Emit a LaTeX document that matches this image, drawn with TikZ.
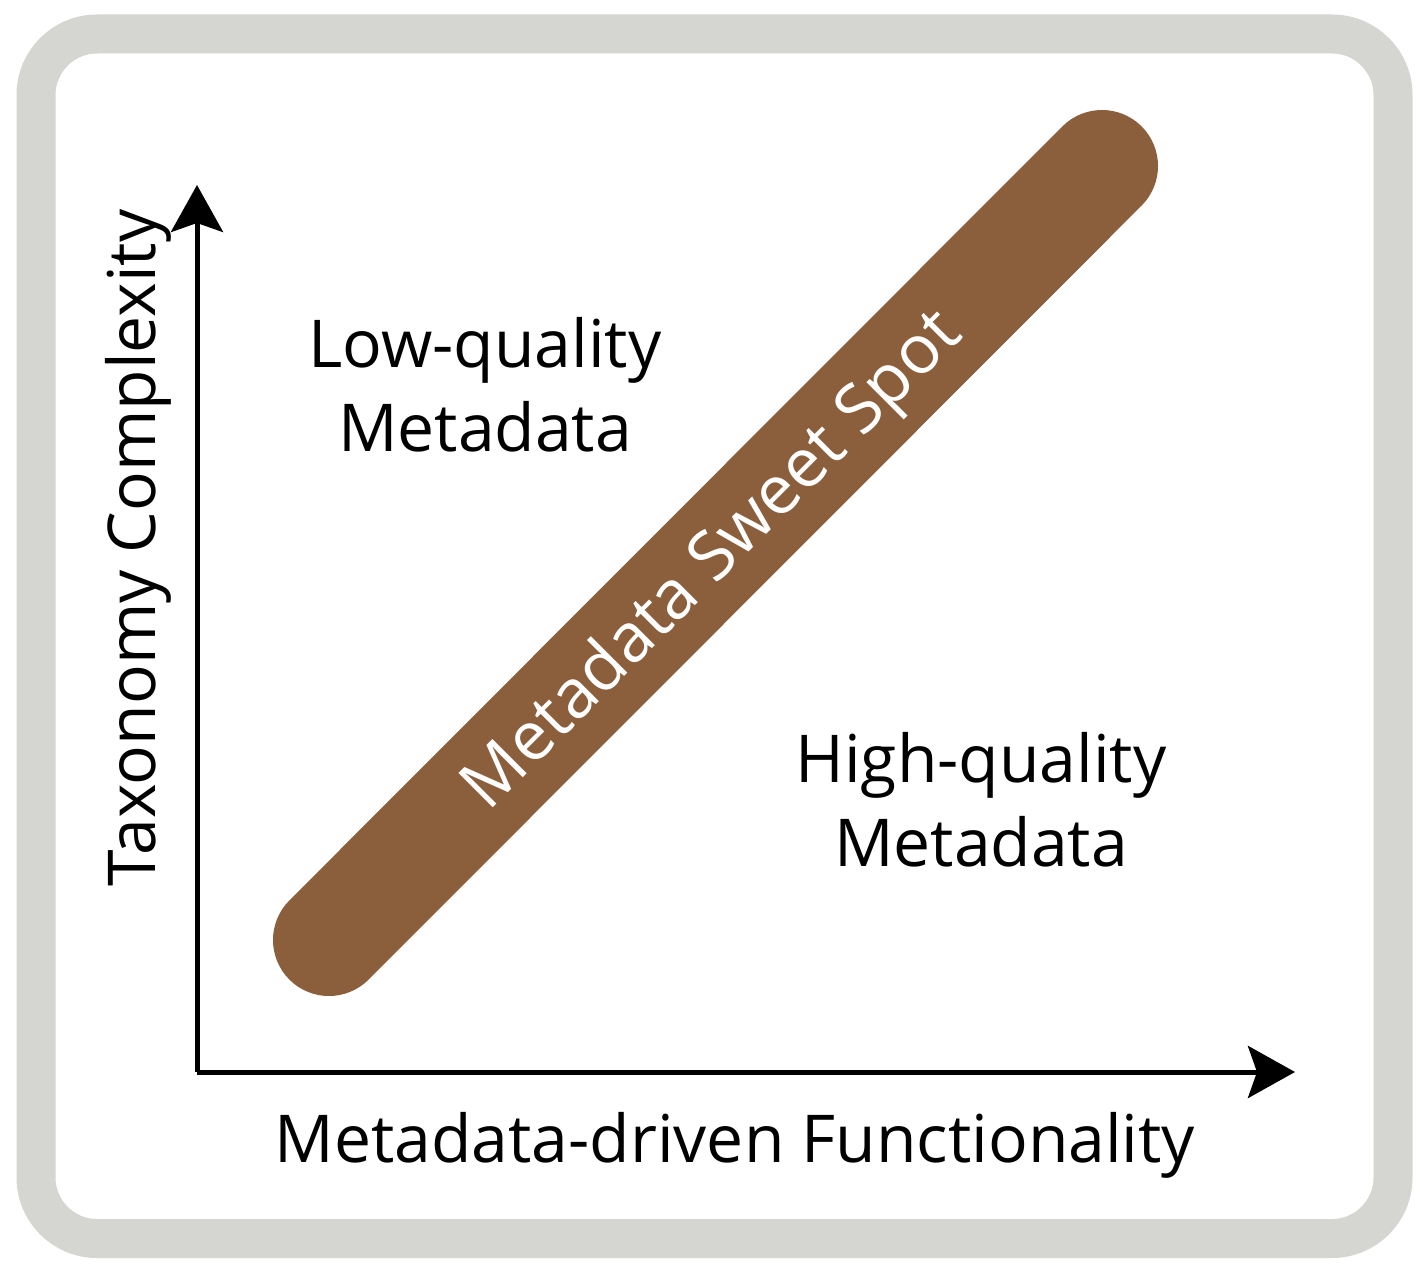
\documentclass[tikz,border=0pt]{standalone}
\usepackage{fontspec}
\setmainfont{Open Sans}
\usetikzlibrary{arrows.meta}
\definecolor{framegray}{RGB}{213,214,209}
\definecolor{barbrown}{RGB}{139,94,60}
\tikzset{
  frame/.style={draw=framegray, line width=39pt, rounded corners=61pt, fill=white},
  axis/.style={draw=black, line width=5pt, -{Stealth[length=47pt, width=52pt, inset=9pt]}},
  sweetbar/.style={draw=barbrown, line width=112pt, line cap=round},
  region/.style={font=\fontsize{66}{84}\selectfont, align=center, text=black, inner sep=0pt},
  axislabel/.style={font=\fontsize{66}{80}\selectfont, text=black, inner sep=0pt, anchor=base},
  barlabel/.style={font=\fontsize{68}{80}\selectfont, text=white, inner sep=0pt, rotate=45}
}
\begin{document}
\begin{tikzpicture}[x=1pt,y=-1pt]
\useasboundingbox (0,0) rectangle (1424,1273);
\fill[white] (0,0) rectangle (1424,1273);
\draw[frame] (36,34) rectangle (1393,1238.5);
% sweet spot bar
\coordinate (barA) at (329,940);
\coordinate (barB) at (1102,166);
\draw[sweetbar] (barA) -- (barB);
\node[barlabel] (sweet) at (714,562) {Metadata Sweet Spot};
% axes
\coordinate (origin) at (197,1072);
\coordinate (ytip) at (197,185);
\coordinate (xtip) at (1295,1072);
\draw[axis] (origin) -- (ytip);
\draw[axis] (origin) -- (xtip);
% labels
\node[axislabel] (xlabel) at (735,1162) {Metadata-driven Functionality};
\node[axislabel, rotate=90] (ylabel) at (155,548) {Taxonomy Complexity};
\node[region, anchor=base] (low) at (485,451) {Low-quality\\Metadata};
\node[region, anchor=base] (high) at (981,866) {High-quality\\Metadata};
\end{tikzpicture}
\end{document}
